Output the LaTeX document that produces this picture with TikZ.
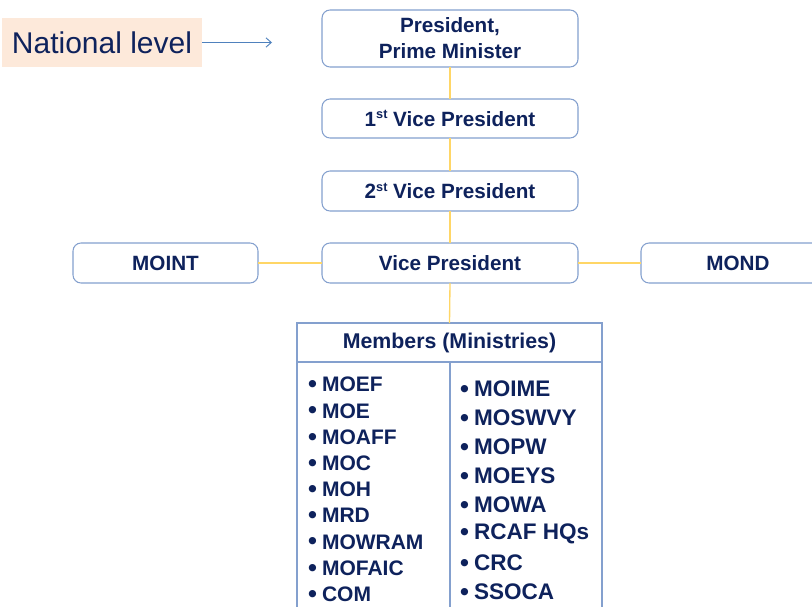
\documentclass[tikz,border=0pt]{standalone}
\usepackage{fontspec}
\setmainfont{Liberation Sans}
\usetikzlibrary{arrows.meta}
\definecolor{navy}{RGB}{14,34,92}
\definecolor{boxblue}{RGB}{132,160,206}
\definecolor{linkyellow}{RGB}{255,214,102}
\definecolor{peach}{RGB}{253,233,218}
\definecolor{arrowblue}{RGB}{79,129,189}
\newcommand{\bul}{\makebox[10.5pt][l]{\raisebox{-0.6pt}{\fontsize{19}{19}\selectfont •}}}
\newcommand{\supst}{\raisebox{0.38em}{\fontsize{9.5}{10}\selectfont st}}
\begin{document}
\begin{tikzpicture}[x=0.75pt,y=-0.75pt,
  every node/.style={inner sep=0pt, outer sep=0pt},
  orgbox/.style={draw=boxblue, line width=0.8pt, rounded corners=6pt, fill=white, text=navy,
    font=\bfseries\fontsize{15.5}{19.5}\selectfont, align=center, minimum width=192pt},
  link/.style={draw=linkyellow, line width=1pt},
  tableline/.style={draw=boxblue, line width=0.8pt},
  leftitem/.style={anchor=west, text=navy, font=\bfseries\fontsize{15.75}{18}\selectfont},
  rightitem/.style={anchor=west, text=navy, font=\bfseries\fontsize{16.9}{19}\selectfont}]
\useasboundingbox (0,0) rectangle (812,606);
% National level
\node[fill=peach, minimum width=150pt, minimum height=36.75pt, text=navy,
  font=\fontsize{22.5}{26}\selectfont] (nat) at (102,42.5) {National level};
\coordinate (arrEnd) at (272,42.5);
\draw[arrowblue, line width=0.7pt, -{Straight Barb[length=4pt,width=7pt]}] (nat.east) -- (arrEnd);
% boxes
\node[orgbox, minimum height=42.75pt] (pres) at (450,38.5) {President,\\Prime Minister};
\node[orgbox, minimum height=29.25pt] (vp1) at (450,118.5) {1\supst\ Vice President};
\node[orgbox, minimum height=30pt] (vp2) at (450,191) {2\supst\ Vice President};
\node[orgbox, minimum height=30pt] (vp) at (450,263) {Vice President};
\node[orgbox, minimum height=30pt, minimum width=138.75pt] (moint) at (165.5,263) {MOINT};
\node[orgbox, minimum height=30pt, minimum width=145.5pt] (mond) at (738,263) {MOND};
% members header
\node[draw=boxblue, line width=0.8pt, minimum width=228.75pt, minimum height=29.25pt, text=navy,
  font=\bfseries\fontsize{16}{18}\selectfont] (mem) at (449.5,342.5) {Members (Ministries)};
\coordinate (bl) at (297,612);
\coordinate (br) at (602,612);
\coordinate (midtop) at (450,362);
\coordinate (midbot) at (450,612);
\draw[tableline] (mem.south west) -- (bl);
\draw[tableline] (mem.south east) -- (br);
\draw[tableline] (midtop) -- (midbot);
% links
\draw[link] (pres.south) -- (vp1.north);
\draw[link] (vp1.south) -- (vp2.north);
\draw[link] (vp2.south) -- (vp.north);
\draw[link] (vp.south) -- (mem.north);
\draw[link] (moint.east) -- (vp.west);
\draw[link] (vp.east) -- (mond.west);
% items
\foreach \t [count=\i from 0] in {MOEF,MOE,MOAFF,MOC,MOH,MRD,MOWRAM,MOFAIC,COM}
  \node[leftitem] (l\i) at (308,385+26.2*\i) {\bul\t};
\foreach \t [count=\i from 0] in {MOIME,MOSWVY,MOPW,MOEYS,MOWA,RCAF HQs,CRC,SSOCA}
  \node[rightitem] (r\i) at (460,389+29*\i) {\bul\t};
\end{tikzpicture}
\end{document}
